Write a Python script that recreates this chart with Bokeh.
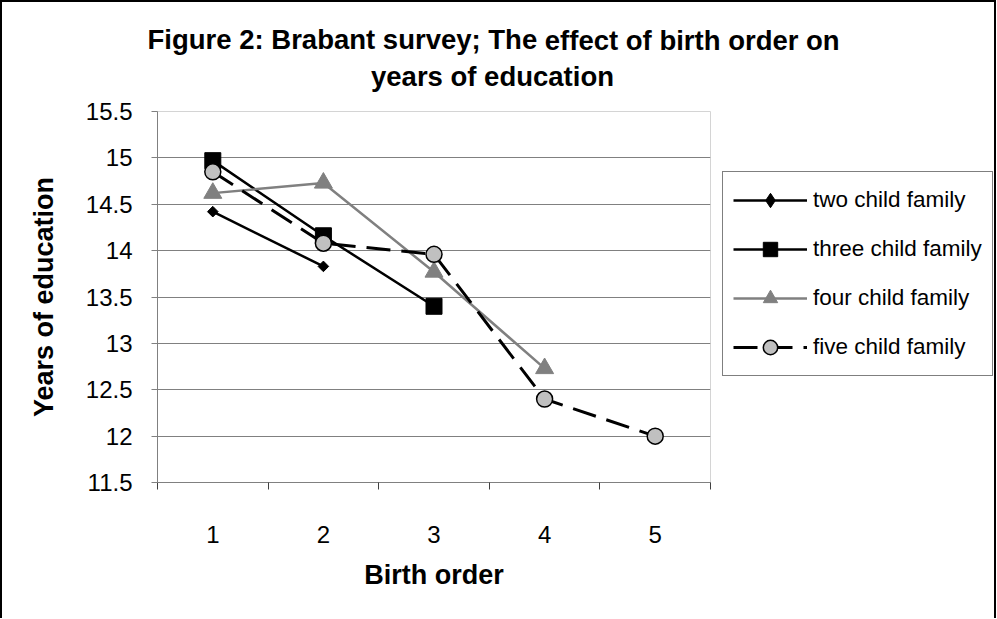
import math
from bokeh.plotting import figure
from bokeh.models import FixedTicker, Legend, LegendItem, Label, Range1d
from bokeh.embed import file_html
from bokeh.resources import INLINE

# ---- data ----
birth_order = [1, 2, 3, 4, 5]
two_child = [14.42, 13.83]
three_child = [14.97, 14.16, 13.40]
four_child = [14.62, 14.73, 13.77, 12.73]
five_child = [14.85, 14.08, 13.96, 12.40, 12.00]
series_names = ["two child family", "three child family", "four child family", "five child family"]
y_ticks = [11.5, 12, 12.5, 13, 13.5, 14, 14.5, 15, 15.5]
grid_ticks = [12, 12.5, 13, 13.5, 14, 14.5, 15]
x_tick_labels = ["1", "2", "3", "4", "5"]
category_edges = [0.5, 1.5, 2.5, 3.5, 4.5, 5.5]
title_line1_a = "Figure 2: Brabant survey; The"
title_line1_b = "effect of birth order on"
title_line2 = "years of education"
x_title = "Birth order"
y_title = "Years of education"

FONT = "Liberation Sans"

p = figure(frame_width=553, frame_height=371,
           min_border_left=155, min_border_right=283,
           min_border_top=109, min_border_bottom=136,
           x_range=Range1d(0.5, 5.5), y_range=Range1d(11.5, 15.5),
           output_backend="svg", toolbar_location=None,
           stylesheets=[":host { max-width: 996px !important; overflow: hidden !important; }"])
p.styles = {"border-left": "2px solid black", "border-top": "2px solid black",
            "border-right": "2px solid black"}
p.background_fill_color = "white"
p.border_fill_color = "white"
p.outline_line_color = "#d4d4d4"
p.outline_line_width = 1

# y axis
yax = p.yaxis[0]
yax.ticker = FixedTicker(ticks=y_ticks)
yax.major_label_overrides = {v: ("%g" % v) for v in y_ticks}
yax.axis_line_color = "#808080"
yax.major_tick_line_color = "#808080"
yax.major_tick_out = 6
yax.major_tick_in = 0
yax.minor_tick_line_color = None
yax.major_label_standoff = 19
yax.major_label_text_font = FONT
yax.major_label_text_font_size = "24px"
yax.major_label_text_color = "black"
yax.axis_label = y_title
yax.axis_label_text_font = FONT
yax.axis_label_text_font_size = "27px"
yax.axis_label_text_font_style = "bold"
yax.axis_label_text_color = "black"
yax.axis_label_standoff = 24

# x axis
xax = p.xaxis[0]
xax.ticker = FixedTicker(ticks=birth_order, minor_ticks=category_edges)
xax.major_label_overrides = {b: lab for b, lab in zip(birth_order, x_tick_labels)}
xax.axis_line_color = "#808080"
xax.major_tick_line_color = None
xax.major_tick_out = 0
xax.major_tick_in = 0
xax.minor_tick_line_color = "#404040"
xax.minor_tick_out = 7
xax.minor_tick_in = 0
xax.major_label_standoff = 36
xax.major_label_text_font = FONT
xax.major_label_text_font_size = "24px"
xax.major_label_text_color = "black"
xax.axis_label = x_title
xax.axis_label_text_font = FONT
xax.axis_label_text_font_size = "27px"
xax.axis_label_text_font_style = "bold"
xax.axis_label_text_color = "black"
xax.axis_label_standoff = 14

p.xgrid.visible = False
p.ygrid.ticker = FixedTicker(ticks=grid_ticks)
p.ygrid.grid_line_color = "#808080"
p.ygrid.grid_line_width = 1

# series
l2 = p.line(birth_order[:len(two_child)], two_child, line_color="black", line_width=2.5)
# diamond key for the legend (hidden under the rotated squares in the plot)
s2_key = p.scatter(birth_order[:len(two_child)], two_child, marker="diamond", size=7,
                   fill_color="black", line_color="black")
s2 = p.scatter(birth_order[:len(two_child)], two_child, marker="square", angle=math.pi / 4,
               size=7.5, fill_color="black", line_color="black")

l3 = p.line(birth_order[:len(three_child)], three_child, line_color="black", line_width=2.5)
s3 = p.scatter(birth_order[:len(three_child)], three_child, marker="square",
               size=16, fill_color="black", line_color="black")

l4 = p.line(birth_order[:len(four_child)], four_child, line_color="#808080", line_width=2.5)
s4 = p.scatter(birth_order[:len(four_child)], four_child, marker="triangle",
               size=18, fill_color="#808080", line_color="#808080")

l5 = p.line(birth_order[:len(five_child)], five_child, line_color="black", line_width=3,
            line_dash="24 11")
s5 = p.scatter(birth_order[:len(five_child)], five_child, marker="circle",
               size=16, fill_color="#c0c0c0", line_color="black", line_width=1.5)

legend = Legend(items=[
    LegendItem(label=series_names[0], renderers=[l2, s2_key]),
    LegendItem(label=series_names[1], renderers=[l3, s3]),
    LegendItem(label=series_names[2], renderers=[l4, s4]),
    LegendItem(label=series_names[3], renderers=[l5, s5]),
], location=(12, 106))
legend.glyph_width = 74
legend.glyph_height = 36
legend.label_standoff = 6
legend.spacing = 13
legend.padding = 10
legend.margin = 0
legend.border_line_color = "black"
legend.border_line_width = 1
legend.background_fill_color = "white"
legend.label_text_font = FONT
legend.label_text_font_size = "22.5px"
legend.label_text_color = "black"
p.add_layout(legend, "right")

# title: second line, then first line in two halves
tstyle = dict(x_units="screen", y_units="screen", text_baseline="alphabetic", text_font=FONT,
              text_font_size="27.5px", text_font_style="bold", text_color="black")
t_line2 = Label(x=335, y=35.4, text=title_line2, text_align="center", **tstyle)
t_line1a = Label(x=379.7, y=40.7, text=title_line1_a, text_align="right", **tstyle)
t_line1b = Label(x=387.3, y=9.3, text=title_line1_b, text_align="left", **tstyle)
p.add_layout(t_line2, "above")
p.add_layout(t_line1a, "above")
p.add_layout(t_line1b, "above")

open("out.html", "w").write(file_html(p, INLINE))
